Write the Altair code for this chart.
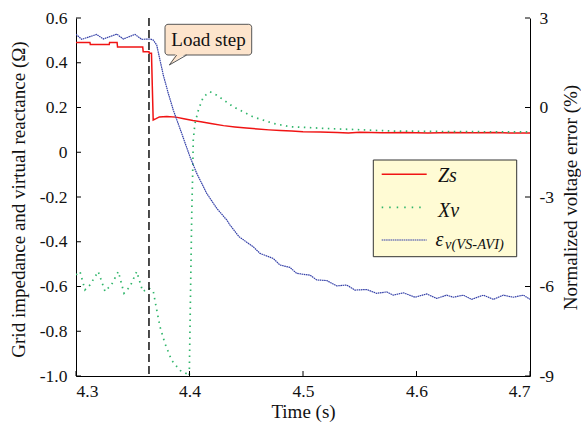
import altair as alt
import pandas as pd

# ---------------- data ----------------
# Grid impedance Zs (ohm), left axis
zs_time = [4.3000, 4.3123, 4.3126, 4.3293, 4.3296, 4.3362, 4.3366, 4.3588, 4.3592, 4.3643,
           4.3646, 4.3665, 4.3672, 4.3680, 4.3705, 4.3735, 4.3800, 4.3880, 4.3950, 4.4030,
           4.4100, 4.4200, 4.4300, 4.4400, 4.4500, 4.4600, 4.4700, 4.4800, 4.4900, 4.5000,
           4.5150, 4.5300, 4.5400, 4.5500, 4.5700, 4.5900, 4.6100, 4.6300, 4.6500, 4.6700,
           4.6850, 4.7000]
zs_value = [0.491, 0.491, 0.482, 0.482, 0.491, 0.491, 0.470, 0.470, 0.449, 0.449,
            0.442, 0.442, 0.300, 0.144, 0.150, 0.158, 0.160, 0.157, 0.150, 0.142,
            0.136, 0.127, 0.119, 0.113, 0.108, 0.104, 0.100, 0.097, 0.095, 0.092,
            0.090, 0.088, 0.086, 0.089, 0.087, 0.088, 0.086, 0.088, 0.087, 0.088,
            0.086, 0.086]

# Virtual reactance Xv (ohm), left axis
xv_time = [4.3000, 4.3035, 4.3079, 4.3123, 4.3196, 4.3256, 4.3315, 4.3373, 4.3423, 4.3476,
           4.3535, 4.3588, 4.3643, 4.3681, 4.3711, 4.3740, 4.3784, 4.3843, 4.3916, 4.3975,
           4.3998, 4.4010, 4.4020, 4.4028, 4.4033, 4.4048, 4.4078, 4.4122, 4.4181, 4.4240,
           4.4386, 4.4562, 4.4738, 4.4885, 4.5176, 4.5767, 4.6400, 4.7000]
xv_value = [-0.548, -0.533, -0.615, -0.593, -0.533, -0.622, -0.590, -0.533, -0.630, -0.600,
            -0.533, -0.622, -0.607, -0.622, -0.704, -0.780, -0.855, -0.930, -0.975, -0.990,
            -1.000, -0.600, -0.270, -0.095, 0.054, 0.129, 0.188, 0.248, 0.270, 0.255,
            0.203, 0.158, 0.129, 0.114, 0.107, 0.095, 0.092, 0.091]

# Normalized voltage error eps_v(VS-AVI) (%), right axis
ev_time = [4.3000, 4.3050, 4.3182, 4.3241, 4.3359, 4.3417, 4.3520, 4.3579, 4.3652, 4.3681,
           4.3711, 4.3740, 4.3769, 4.3813, 4.3857, 4.3931, 4.4004, 4.4063, 4.4152, 4.4240,
           4.4328, 4.4357, 4.4436, 4.4562, 4.4621, 4.4738, 4.4797, 4.4885, 4.4944, 4.5062,
           4.5121, 4.5209, 4.5297, 4.5385, 4.5458, 4.5561, 4.5649, 4.5737, 4.5796, 4.5884,
           4.5987, 4.6090, 4.6178, 4.6266, 4.6324, 4.6412, 4.6486, 4.6589, 4.6677, 4.6765,
           4.6852, 4.6941, 4.7000]
ev_value = [2.454, 2.285, 2.450, 2.296, 2.460, 2.296, 2.450, 2.285, 2.296, 2.260,
            2.095, 1.590, 1.090, 0.475, -0.084, -0.865, -1.650, -2.200, -2.880, -3.380,
            -3.770, -3.940, -4.330, -4.670, -4.890, -5.060, -5.280, -5.360, -5.560, -5.620,
            -5.780, -5.800, -5.980, -5.950, -6.120, -6.100, -6.230, -6.180, -6.290, -6.210,
            -6.360, -6.250, -6.400, -6.290, -6.360, -6.290, -6.430, -6.290, -6.430, -6.290,
            -6.360, -6.290, -6.430]

load_step_time = [4.3643]
left_ticks = [0.6, 0.4, 0.2, 0.0, -0.2, -0.4, -0.6, -0.8, -1.0]
right_ticks = [3, 0, -3, -6, -9]
x_ticks = [4.3, 4.4, 4.5, 4.6, 4.7]

# ---------------- styling ----------------
W, H = 454, 358
FONT = "Liberation Serif"
RED = "#f01414"
GREEN = "#2fb56a"
BLUE = "#3440a8"
LBL = dict(labelFont=FONT, labelFontSize=17.5, labelColor="#111",
           titleFont=FONT, titleFontSize=19, titleFontWeight="normal", titleColor="#111")

zs_df = pd.DataFrame({"t": zs_time, "v": zs_value})
xv_df = pd.DataFrame({"t": xv_time, "v": xv_value})
ev_df = pd.DataFrame({"t": ev_time, "e": ev_value})
one = pd.DataFrame({"k": [0]})

x_scale = alt.Scale(domain=[4.3, 4.7], nice=False, zero=False)
x_enc = alt.X("t:Q", scale=x_scale,
              axis=alt.Axis(values=x_ticks, format=".1f", title="Time (s)", labelPadding=6,
                            titleX=W / 2, titleY=35, titleBaseline="middle", **LBL))

left_scale = alt.Scale(domain=[-1.0, 0.6], nice=False, zero=False)
left_axis = alt.Axis(
    values=left_ticks,
    labelExpr="datum.value == 0 ? '0' : (datum.value < 0 ? '-' : '') + format(abs(datum.value), '.1f')",
    title="Grid impedance and virtual reactance (Ω)",
    labelPadding=9, titleX=-58, titleY=H / 2 + 2, titleBaseline="middle", titleAngle=270, **LBL)
left_y = alt.Y("v:Q", scale=left_scale, axis=left_axis)

right_scale = alt.Scale(domain=[-9, 3], nice=False, zero=False)
right_axis = alt.Axis(
    orient="right", values=right_ticks,
    labelExpr="(datum.value < 0 ? '-' : '') + format(abs(datum.value), 'd')",
    title="Normalized voltage error (%)",
    labelPadding=9, titleX=40, titleY=H / 2, titleBaseline="middle", titleAngle=270, **LBL)
right_y = alt.Y("e:Q", scale=right_scale, axis=right_axis)

red = alt.Chart(zs_df).mark_line(color=RED, strokeWidth=1.5, clip=True).encode(x=x_enc, y=left_y)
green = alt.Chart(xv_df).mark_line(color=GREEN, strokeWidth=1.7, strokeDash=[1.5, 4.5],
                                   clip=True).encode(x=x_enc, y=left_y)
vline = alt.Chart(pd.DataFrame({"t": load_step_time})).mark_rule(
    color="black", strokeWidth=1.4, strokeDash=[8, 4]).encode(
    x=x_enc, y=alt.value(0), y2=alt.value(H))
lticks = alt.Chart(pd.DataFrame({"v": left_ticks})).mark_rule(color="black").encode(
    y=left_y, x=alt.value(0), x2=alt.value(5))
bticks = alt.Chart(pd.DataFrame({"t": x_ticks})).mark_rule(color="black").encode(
    x=x_enc, y=alt.value(H), y2=alt.value(H - 5))
left_layer = alt.layer(red, green, vline, lticks, bticks)

blue = alt.Chart(ev_df).mark_line(color=BLUE, strokeWidth=1.2, strokeDash=[1.6, 0.6],
                                  clip=True).encode(x=x_enc, y=right_y)
rticks = alt.Chart(pd.DataFrame({"e": right_ticks})).mark_rule(color="black").encode(
    y=right_y, x=alt.value(W - 5), x2=alt.value(W))
right_layer = alt.layer(blue, rticks)

# ---------------- annotations ----------------
base = alt.Chart(one)
callout_box = base.mark_rect(fill="#fde4cc", stroke="#555555", strokeWidth=1, cornerRadius=3).encode(
    x=alt.value(89), x2=alt.value(175.7), y=alt.value(6.3), y2=alt.value(37))
tail_fill = base.mark_point(shape="M -0.87 0.5 L -0.16 -0.7 L 0.92 -0.7 Z", filled=True,
                            fill="#fde4cc", opacity=1, strokeWidth=0, size=400).encode(
    x=alt.value(102), y=alt.value(42))
tail_line = base.mark_point(shape="M -0.13 -0.5 L -0.87 0.5 L 0.87 -0.5", filled=False,
                            stroke="#555555", strokeWidth=1, opacity=1, size=400).encode(
    x=alt.value(102), y=alt.value(42))
callout_text = base.mark_text(text="Load step", font=FONT, fontSize=19, color="#111",
                              align="center", baseline="middle").encode(
    x=alt.value(132.5), y=alt.value(21.5))

legend_box = base.mark_rect(fill="#fffbd4", stroke="#333333", strokeWidth=1).encode(
    x=alt.value(297.3), x2=alt.value(440.7), y=alt.value(142), y2=alt.value(238.7))
leg_red = base.mark_rule(color=RED, strokeWidth=1.5).encode(
    x=alt.value(305.7), x2=alt.value(350.7), y=alt.value(156.3))
leg_green = base.mark_rule(color=GREEN, strokeWidth=1.7, strokeDash=[1.5, 6]).encode(
    x=alt.value(305.7), x2=alt.value(350.7), y=alt.value(189.3))
leg_blue = base.mark_rule(color=BLUE, strokeWidth=1.2, strokeDash=[1.6, 0.6]).encode(
    x=alt.value(305.7), x2=alt.value(350.7), y=alt.value(222))
txt_kw = dict(font=FONT, fontStyle="italic", color="#111", align="left", baseline="alphabetic")
leg_zs = base.mark_text(text="Zs", fontSize=20, **txt_kw).encode(x=alt.value(362), y=alt.value(164.3))
leg_xv = base.mark_text(text="Xv", fontSize=20, **txt_kw).encode(x=alt.value(362), y=alt.value(198.7))
leg_ev = base.mark_text(text="ε", fontSize=20, **txt_kw).encode(x=alt.value(359.5), y=alt.value(227.5))
leg_ev_sub = base.mark_text(text="v(VS-AVI)", fontSize=14.5, **txt_kw).encode(
    x=alt.value(369), y=alt.value(231))

annot_layer = alt.layer(callout_box, tail_fill, tail_line, callout_text,
                        legend_box, leg_red, leg_green, leg_blue,
                        leg_zs, leg_xv, leg_ev, leg_ev_sub)

chart = alt.layer(left_layer, right_layer, annot_layer).resolve_scale(
    y="independent"
).properties(
    width=W, height=H,
    padding={"left": 76, "top": 18, "right": 51, "bottom": 46},
    autosize=alt.AutoSizeParams(type="none"),
).configure_axis(
    labelFont=FONT, titleFont=FONT, labelFontSize=17.5, titleFontSize=19,
    titleFontWeight="normal", labelColor="#111", titleColor="#111",
    domainColor="black", domainWidth=1, ticks=False, grid=False,
).configure_view(stroke=None)

chart.save("out.html", embed_options={"renderer": "svg", "actions": False})
